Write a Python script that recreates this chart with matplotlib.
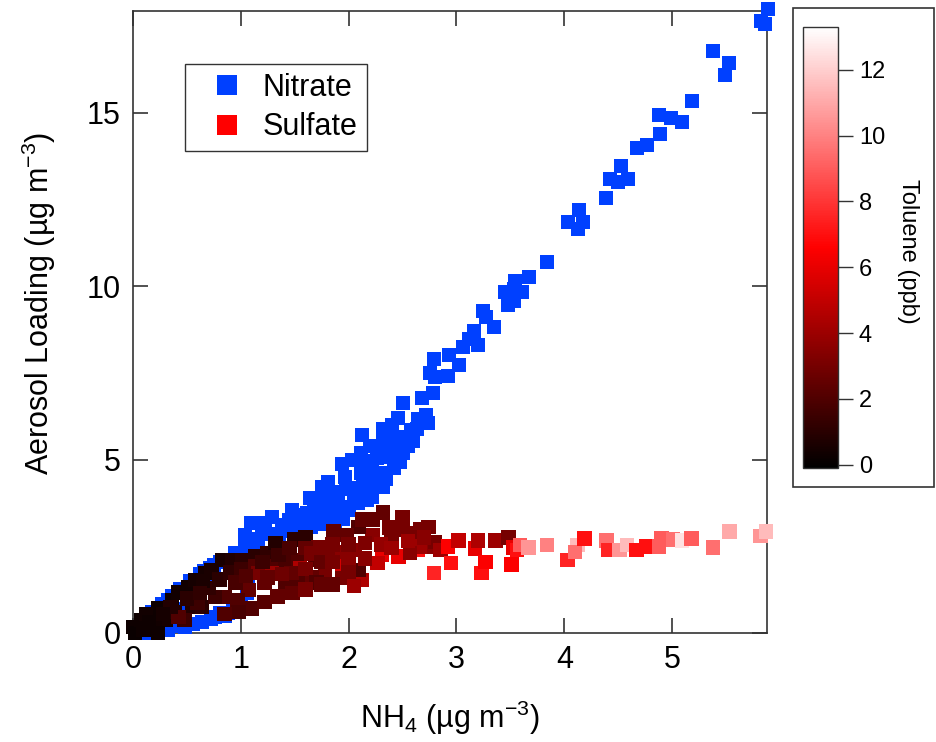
import numpy as np
import matplotlib
matplotlib.use("Agg")
import matplotlib.pyplot as plt
from matplotlib.colors import LinearSegmentedColormap, Normalize
from matplotlib.lines import Line2D
from matplotlib.patches import Rectangle

plt.rcParams['font.family'] = ['Liberation Sans', 'DejaVu Sans']
plt.rcParams['mathtext.fontset'] = 'custom'
plt.rcParams['mathtext.rm'] = 'Liberation Sans'
plt.rcParams['mathtext.it'] = 'Liberation Sans:italic'
plt.rcParams['mathtext.default'] = 'regular'

# ---------------- data ----------------
nitrate_nh4 = [5.89, 5.82, 5.86, 5.38, 5.53, 5.49, 5.18, 4.88, 4.99, 5.09, 4.89, 4.77, 4.67,
               4.53, 4.42, 4.59, 4.50, 4.39, 4.14, 4.03, 4.17, 4.13, 3.84, 3.67, 3.54, 3.53,
               3.45, 3.61, 3.53, 3.48, 3.25, 3.27, 3.35, 3.16, 3.20, 3.12, 3.06, 3.02, 2.93,
               2.79, 2.75, 2.80, 2.92, 2.78, 2.68, 2.50, 2.72, 2.64, 2.74, 2.46, 2.63, 2.32,
               2.40, 2.12, 2.50, 2.55, 2.50, 2.32, 2.20, 2.11, 2.48, 2.38, 2.26, 1.94, 2.03,
               2.32, 2.22, 2.11, 2.32, 2.23, 2.13, 1.97, 1.81, 1.75, 1.86, 2.04, 1.64, 2.17,
               2.09, 1.89, 1.73, 1.61, 1.71, 1.86, 1.64, 1.87, 1.47, 1.29, 1.09, 1.22, 1.04,
               1.20, 1.38, 1.57, 1.78, 1.94, 2.22, 1.04, 0.95, 1.16, 1.32, 0.81, 0.71, 0.62,
               0.53, 0.44, 0.36, 0.27, 0.18, 0.10, 0.11, 0.05, 0.32, 0.48, 0.64, 0.76, 0.88,
               0.97, 0.70, 0.51, 0.32, 1.07, 1.02, 1.06, 0.93, 0.81,
               1.10, 1.25, 1.40, 1.45, 1.55, 1.68, 1.80, 1.90, 1.98, 1.50, 1.65, 1.75, 1.85,
               1.95, 2.00, 2.05, 2.15, 2.25, 2.35, 2.42, 2.45, 2.28, 2.15, 2.40, 2.58, 2.60,
               2.68, 1.35, 1.12, 0.98, 0.88, 0.75, 0.66, 0.40, 0.56, 0.72, 0.85, 1.00, 0.60,
               0.45, 0.25, 0.15]
nitrate_val = [18.00, 17.66, 17.57, 16.79, 16.45, 16.10, 15.35, 14.94, 14.86, 14.74, 14.39,
               14.08, 13.99, 13.47, 13.09, 13.09, 13.01, 12.54, 12.20, 11.85, 11.85, 11.65,
               10.69, 10.26, 10.14, 9.91, 9.83, 9.83, 9.57, 9.45, 9.28, 9.10, 8.84, 8.70, 8.32,
               8.47, 8.24, 7.72, 8.01, 7.89, 7.51, 7.37, 7.40, 6.91, 6.79, 6.62, 6.30, 6.16,
               6.07, 6.21, 5.87, 5.87, 6.01, 5.72, 5.66, 5.38, 5.20, 5.49, 5.38, 5.20, 4.94,
               5.09, 5.06, 4.86, 5.00, 4.62, 4.71, 4.62, 4.22, 4.22, 4.42, 4.51, 4.36, 4.22,
               4.08, 4.19, 3.90, 3.84, 3.76, 3.61, 3.84, 3.47, 3.35, 3.27, 3.12, 3.03, 3.55,
               3.35, 3.18, 3.18, 2.83, 2.89, 3.12, 3.18, 3.47, 3.64, 3.93, 2.49, 2.31, 2.60,
               2.60, 2.05, 1.88, 1.70, 1.50, 1.28, 1.08, 0.85, 0.60, 0.35, 0.00, 0.00, 0.09,
               0.17, 0.32, 0.46, 0.58, 0.66, 1.33, 1.01, 0.95, 1.47, 1.53, 1.15, 0.75, 0.58,
               2.70, 2.85, 2.95, 3.25, 3.40, 3.60, 3.75, 3.95, 4.15, 2.95, 3.05, 3.15, 3.45,
               3.30, 3.55, 3.90, 4.05, 4.35, 4.45, 4.75, 5.45, 5.25, 4.95, 5.70, 5.85, 5.55,
               6.05, 2.75, 2.45, 2.20, 2.10, 1.95, 1.80, 0.20, 0.25, 0.40, 0.50, 0.90, 0.85,
               0.70, 0.40, 0.05]

sulfate_nh4 = [0.00, 0.02, 0.08, 0.18, 0.23, 0.30, 0.36, 0.42, 0.51, 0.58, 0.67, 0.73, 0.83,
               0.20, 0.23, 0.39, 0.55, 0.64, 0.48, 0.10, 0.12, 0.92, 1.01, 1.13, 1.25, 1.32,
               1.50, 1.60, 1.13, 1.29, 1.41, 1.53, 1.55, 1.69, 1.72, 1.81, 1.94, 2.06, 2.22,
               2.32, 2.22, 2.50, 2.50, 2.62, 2.09, 1.86, 1.98, 2.40, 2.31, 2.46, 2.64, 2.27,
               1.94, 2.12, 2.09, 1.94, 1.78, 1.66, 1.53, 1.41, 1.22, 1.07, 0.85, 0.76, 0.97,
               0.60, 0.42, 1.29, 1.16, 1.47, 2.13, 2.48, 2.66, 2.74, 2.75, 2.66, 2.57, 2.80,
               0.70, 0.80, 0.90, 1.00, 0.95, 1.05, 1.20, 1.35, 1.45, 1.60, 1.65, 1.75, 1.85,
               1.85, 2.00, 2.00, 2.15, 2.15, 2.30, 2.40, 2.38, 2.55, 2.70, 2.85, 1.25, 1.38,
               1.60, 1.70, 1.85, 2.00, 0.50, 0.35, 0.28, 0.15, 0.65, 0.62,
               1.10, 1.22, 1.34, 1.48, 1.60, 1.75, 2.05, 0.98, 0.85,
               2.79, 2.92, 2.95, 3.02, 3.17, 3.20, 3.23, 3.27, 3.36, 3.48, 3.51, 3.53, 3.56,
               3.59, 3.67, 3.84, 4.03, 4.12, 4.10, 4.19, 4.39, 4.41, 4.51, 4.58, 4.67, 4.76,
               4.88, 4.90, 5.01, 5.09, 5.18, 5.38, 5.53, 5.82, 5.87]
sulfate_val = [0.17, 0.00, 0.38, 0.46, 0.72, 0.38, 0.95, 1.16, 1.33, 1.53, 1.73, 1.82, 2.11,
               0.17, 0.00, 0.61, 0.75, 0.75, 0.38, 0.10, 0.55, 2.11, 2.11, 2.20, 2.31, 2.60,
               2.69, 2.75, 1.91, 1.91, 2.05, 2.11, 1.88, 2.11, 2.46, 2.31, 2.34, 2.40, 2.83,
               3.47, 3.27, 3.35, 2.98, 2.89, 3.06, 2.92, 2.83, 2.77, 2.25, 2.20, 2.40, 2.02,
               1.91, 1.53, 1.82, 1.59, 1.82, 1.62, 1.44, 1.44, 1.44, 1.24, 1.04, 1.04, 0.95,
               0.87, 0.46, 1.73, 1.73, 1.73, 3.27, 3.06, 2.98, 3.06, 2.49, 2.49, 2.31, 2.63,
               1.30, 1.55, 1.75, 1.85, 1.45, 1.65, 2.05, 2.25, 2.45, 2.45, 2.30, 2.05, 2.55,
               2.05, 2.55, 2.10, 2.60, 2.15, 2.55, 2.45, 3.05, 2.65, 2.75, 2.40, 1.60, 1.70,
               1.85, 1.45, 1.40, 1.75, 1.00, 0.75, 0.55, 0.30, 1.50, 1.15,
               0.70, 0.90, 1.05, 1.15, 1.25, 1.40, 1.35, 0.60, 0.55,
               1.73, 2.49, 2.02, 2.66, 2.43, 2.66, 1.73, 2.05, 2.66, 2.75, 1.97, 2.46, 2.40,
               2.54, 2.46, 2.54, 2.11, 2.54, 2.34, 2.72, 2.66, 2.40, 2.40, 2.54, 2.40, 2.49,
               2.49, 2.72, 2.69, 2.66, 2.72, 2.46, 2.92, 2.80, 2.92]
toluene = [0.3, 0.2, 0.3, 0.3, 0.3, 0.5, 0.3, 0.4, 0.4, 0.5, 0.5, 0.6, 0.6,
           0.4, 0.3, 0.8, 0.8, 1.0, 1.5, 0.3, 0.4, 0.8, 1.0, 1.0, 1.2, 0.8,
           1.0, 1.0, 2.0, 2.0, 1.8, 2.0, 4.5, 2.2, 3.0, 3.0, 3.5, 3.5, 3.5,
           2.5, 2.5, 3.0, 3.0, 3.0, 2.0, 2.5, 2.5, 3.0, 6.0, 6.0, 7.0, 5.0,
           5.5, 4.5, 2.0, 3.0, 3.0, 2.5, 2.0, 2.0, 2.5, 2.5, 2.0, 1.5, 2.0,
           1.5, 2.0, 4.0, 3.0, 2.5, 2.5, 3.0, 3.0, 3.0, 3.5, 4.0, 3.5, 3.0,
           1.2, 1.0, 1.2, 1.5, 1.8, 2.0, 1.5, 1.5, 1.8, 2.5, 3.0, 2.5, 3.0,
           3.0, 3.0, 3.5, 3.2, 3.5, 3.8, 4.0, 3.0, 4.0, 3.5, 4.0, 2.5, 2.8,
           3.0, 2.0, 2.5, 3.0, 1.0, 0.8, 0.5, 0.3, 0.6, 1.2,
           2.0, 2.2, 2.5, 2.5, 3.0, 2.5, 4.0, 1.8, 2.0,
           7.5, 6.5, 7.0, 5.0, 6.0, 4.5, 7.0, 6.5, 4.0, 3.0, 6.5, 6.0, 7.0,
           9.0, 10.5, 10.0, 7.5, 11.5, 9.5, 7.0, 9.5, 7.5, 10.5, 11.5, 7.0, 7.0,
           9.0, 9.0, 9.5, 12.5, 9.0, 9.5, 11.0, 10.5, 11.5]

x_ticks = [0, 1, 2, 3, 4, 5]
y_ticks = [0, 5, 10, 15]
cbar_ticks = [0, 2, 4, 6, 8, 10, 12]
series_names = ["Nitrate", "Sulfate"]

# ---------------- figure ----------------
fig = plt.figure(figsize=(9.36, 7.42), dpi=100)
ax = fig.add_axes([133/936, 1-633/742, 634/936, 622/742])

cmap = LinearSegmentedColormap.from_list('tol', ['#000000', '#ff0000', '#ffffff'])
norm = Normalize(vmin=-0.1, vmax=13.3)
blue = '#0040ff'

ax.scatter(nitrate_nh4, nitrate_val, s=110, marker='s', color=blue, linewidths=0,
           clip_on=False, zorder=3)
sc = ax.scatter(sulfate_nh4, sulfate_val, s=110, marker='s', c=toluene, cmap=cmap, norm=norm,
                linewidths=0, clip_on=False, zorder=4)

ax.set_xlim(0, 5.88)
ax.set_ylim(0, 17.94)
ax.set_xticks(x_ticks)
ax.set_yticks(y_ticks)
ax.tick_params(direction='in', length=11, width=1.2, color='#333333', labelsize=22,
               top=True, right=True, pad=9)
for sp in ax.spines.values():
    sp.set_color('#333333')
    sp.set_linewidth(1.2)

ax.set_xlabel('NH$_4$ (µg m$^{-3}$)', fontsize=22, labelpad=17)
ax.set_ylabel('Aerosol Loading (µg m$^{-3}$)', fontsize=22)
ax.yaxis.set_label_coords(-0.118, 0.53)

handles = [Line2D([], [], marker='s', linestyle='none', markersize=14, color=blue,
                  markeredgewidth=0),
           Line2D([], [], marker='s', linestyle='none', markersize=14, color='#ff0000',
                  markeredgewidth=0)]
leg = ax.legend(handles, series_names, loc='upper left', bbox_to_anchor=(0.082, 0.915),
                borderaxespad=0, fontsize=22, frameon=True, fancybox=False,
                handlelength=2.15, handletextpad=0.1, borderpad=0.3, labelspacing=0.3)
leg.get_frame().set_edgecolor('black')
leg.get_frame().set_linewidth(1.0)

# colorbar
cax = fig.add_axes([803/936, 1-468/742, 35/936, 441/742])
cb = fig.colorbar(sc, cax=cax, ticks=cbar_ticks)
cb.outline.set_edgecolor('#333333')
cb.outline.set_linewidth(1.0)
cax.tick_params(direction='out', length=11, width=1.0, color='#333333', labelsize=17, pad=4)
fig.text(908/936, 1-251/742, 'Toluene (ppb)', rotation=270, ha='center', va='center',
         fontsize=17)

fig.patches.append(Rectangle((793/936, 1-487/742), 141/936, 479/742, transform=fig.transFigure,
                             fill=False, edgecolor='#333333', linewidth=1.2))

fig.savefig('out.png', dpi=100)
